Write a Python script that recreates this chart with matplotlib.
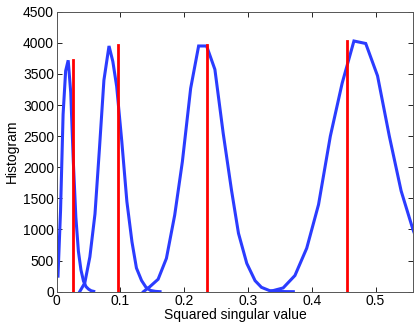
import matplotlib
matplotlib.use("Agg")
import matplotlib.pyplot as plt

plt.rcParams['font.family'] = ['Liberation Sans', 'DejaVu Sans']

# Histogram curves (blue)
c1_x = [0.002, 0.006, 0.010, 0.014, 0.018, 0.022, 0.026, 0.030, 0.034, 0.038, 0.042, 0.046, 0.050, 0.054, 0.058]
c1_y = [250, 1300, 2850, 3550, 3720, 3200, 2100, 1200, 650, 350, 170, 80, 40, 15, 5]

c2_x = [0.036, 0.044, 0.052, 0.060, 0.067, 0.074, 0.082, 0.088, 0.094, 0.102, 0.110, 0.118, 0.125, 0.133, 0.140, 0.147, 0.155, 0.162]
c2_y = [0, 140, 560, 1250, 2300, 3400, 3950, 3700, 3300, 2420, 1450, 800, 380, 180, 70, 20, 5, 0]

c3_x = [0.136, 0.146, 0.159, 0.172, 0.185, 0.197, 0.210, 0.2225, 0.235, 0.248, 0.261, 0.274, 0.285, 0.298, 0.311, 0.321, 0.334, 0.348, 0.361, 0.371]
c3_y = [0, 80, 200, 536, 1232, 2089, 3268, 3950, 3950, 3573, 2548, 1635, 938, 455, 177, 70, 16, 3, 1, 0]

c4_x = [0.3365, 0.355, 0.3735, 0.392, 0.4105, 0.429, 0.4475, 0.466, 0.4845, 0.503, 0.5215, 0.540, 0.5585, 0.577]
c4_y = [10, 60, 260, 700, 1400, 2500, 3350, 4030, 3990, 3470, 2500, 1620, 1000, 500]

# Red markers (true squared singular values)
red_x = [0.026, 0.0955, 0.235, 0.4545]
red_h = [3720, 3960, 3960, 4030]

x_ticks = [0, 0.1, 0.2, 0.3, 0.4, 0.5]
x_labels = ['0', '0.1', '0.2', '0.3', '0.4', '0.5']
y_ticks = [0, 500, 1000, 1500, 2000, 2500, 3000, 3500, 4000, 4500]

fig = plt.figure(figsize=(4.17, 3.27), dpi=100)
ax = fig.add_axes([0.136, 0.108, 0.855, 0.856])

blue = '#2b3cff'
for xs, ys in [(c1_x, c1_y), (c2_x, c2_y), (c3_x, c3_y), (c4_x, c4_y)]:
    ax.plot(xs, ys, color=blue, lw=2.2, solid_joinstyle='miter')

for x, h in zip(red_x, red_h):
    ax.plot([x, x], [0, h], color='#ff0000', lw=2.0)

ax.set_xlim(0, 0.559)
ax.set_ylim(0, 4500)
ax.set_xticks(x_ticks)
ax.set_xticklabels(x_labels)
ax.set_yticks(y_ticks)
ax.tick_params(direction='in', top=True, right=True, length=3.5, width=0.6,
               labelsize=10, colors='#000000', pad=2)
for s in ax.spines.values():
    s.set_linewidth(0.7)
    s.set_color('#555555')
ax.set_xlabel('Squared singular value', fontsize=10, labelpad=0)
ax.set_ylabel('Histogram', fontsize=10, labelpad=3)

fig.savefig('out.png', dpi=100)
